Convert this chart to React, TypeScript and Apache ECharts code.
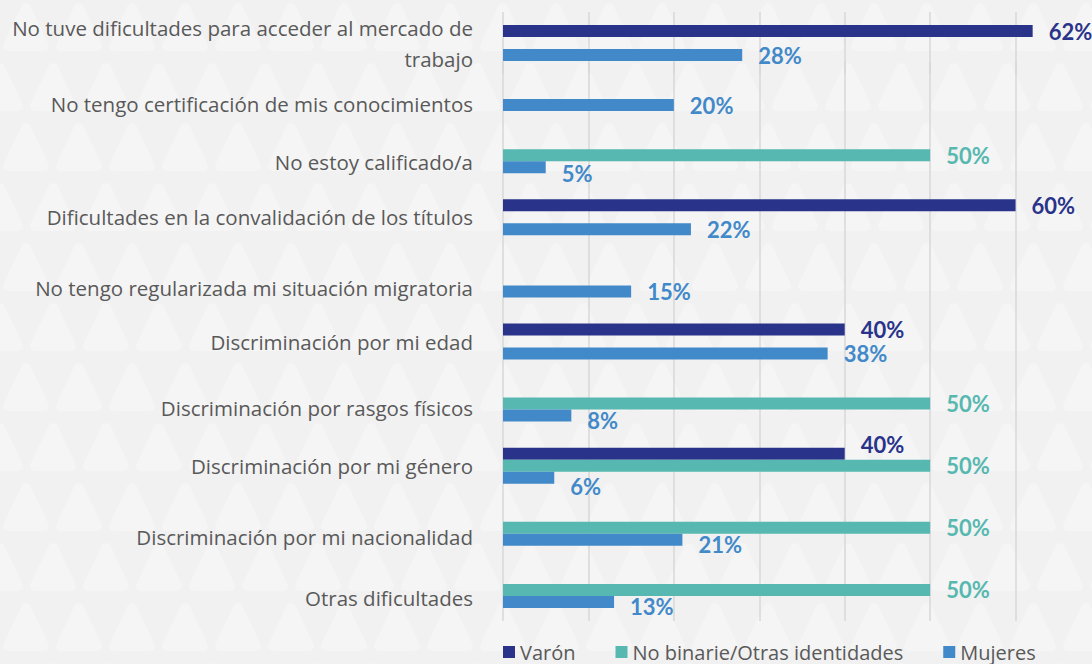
import React, { useEffect, useRef } from "react";
import * as echarts from "echarts";

const categories = [
  "No tuve dificultades para acceder al mercado de\ntrabajo",
  "No tengo certificación de mis conocimientos",
  "No estoy calificado/a",
  "Dificultades en la convalidación de los títulos",
  "No tengo regularizada mi situación migratoria",
  "Discriminación por mi edad",
  "Discriminación por rasgos físicos",
  "Discriminación por mi género",
  "Discriminación por mi nacionalidad",
  "Otras dificultades",
];
const seriesNames = ["Varón", "No binarie/Otras identidades", "Mujeres"];
const varon = [62, null, null, 60, null, 40, null, 40, null, null];
const noBinarie = [null, null, 50, null, null, null, 50, 50, 50, 50];
const mujeres = [28, 20, 5, 22, 15, 38, 8, 6, 21, 13];
const xMin = 0;
const xMax = 70;
const xInterval = 10;

// styling (not data)
const colors = ["#29338a", "#56b8b0", "#4189c9"];
const catLabelShift = [0, 11, 7, 0, 9, 0, 4, 0, 9, 8];
const labelShift = [
  [0, 0, 0, 0, 0, 0, 0, -9, 0, 0],
  [0, 0, 0, 0, 0, 0, 0, 0, 0, 0],
  [0, 0, 6, 0, 0, 0, 5, 9, 5, 5],
];
const FONT = "Lato, 'Open Sans', sans-serif";
const CAT_FONT = "'Open Sans', Lato, sans-serif";
const TEXT = "#595959";
const CAT_SIZE = 20.5;

const bgSvg =
  "<svg xmlns='http://www.w3.org/2000/svg' width='106' height='120'>" +
  "<rect width='106' height='120' fill='#f1f1f1'/>" +
  "<g fill='#f5f5f5' stroke='#f5f5f5' stroke-width='10' stroke-linejoin='round'>" +
  "<polygon points='26,8 8,46 44,46'/>" +
  "<polygon points='79,8 61,46 97,46'/>" +
  "<polygon points='0,68 -18,106 18,106'/>" +
  "<polygon points='106,68 88,106 124,106'/>" +
  "<polygon points='53,68 35,106 71,106'/>" +
  "</g></svg>";

export default function App() {
  const ref = useRef<HTMLDivElement>(null);
  useEffect(() => {
    if (!ref.current) return;
    const chart = echarts.init(ref.current, null, { renderer: "svg" });
    const allData = [varon, noBinarie, mujeres];

    const rich: any = {};
    catLabelShift.forEach((s, i) => {
      rich["c" + i] = {
        fontSize: CAT_SIZE,
        fontFamily: CAT_FONT,
        color: TEXT,
        align: "right",
        padding: [2 * s, 0, 0, 0],
      };
    });
    rich.first = {
      fontSize: CAT_SIZE,
      fontFamily: CAT_FONT,
      color: TEXT,
      align: "right",
      lineHeight: 31,
    };

    const xAxisBase = (gridIndex: number) => ({
      type: "value",
      gridIndex,
      min: xMin,
      max: xMax,
      interval: xInterval,
      axisLabel: { show: false },
      axisLine: { show: false },
      axisTick: { show: false },
      splitLine: { show: true, lineStyle: { color: "#d7d7d7", width: 1.5 } },
    });

    const makeSeries = (gridIndex: number, startIdx: number, endIdx: number) =>
      allData.map((arr, s) => ({
        type: "bar",
        name: seriesNames[s],
        xAxisIndex: gridIndex,
        yAxisIndex: gridIndex,
        barWidth: 12,
        barGap: "0%",
        itemStyle: { color: colors[s] },
        label: {
          show: true,
          position: "right",
          distance: 16,
          formatter: "{c}%",
          color: colors[s],
          fontSize: 22,
          fontWeight: "bold",
          fontFamily: FONT,
        },
        data: arr.slice(startIdx, endIdx).map((v, k) => {
          const idx = startIdx + k;
          if (v === null) return null;
          return {
            value: v,
            label: { offset: [0, labelShift[s][idx]] },
          };
        }),
      }));

    chart.setOption({
      animation: false,
      backgroundColor: "transparent",
      textStyle: { fontFamily: FONT },
      legend: {
        data: seriesNames,
        left: 498,
        top: 637,
        icon: "rect",
        itemWidth: 12,
        itemHeight: 12,
        itemGap: 40,
        textStyle: { fontSize: 20, color: TEXT, fontFamily: CAT_FONT },
      },
      grid: [
        { left: 503, width: 598, top: 12, height: 62, outerBoundsMode: "none" },
        { left: 503, width: 598, top: 62, height: 559, outerBoundsMode: "none" },
      ],
      xAxis: [xAxisBase(0), xAxisBase(1)],
      yAxis: [
        {
          type: "category",
          gridIndex: 0,
          inverse: true,
          data: categories.slice(0, 1),
          axisLine: { show: false },
          axisTick: { show: false },
          axisLabel: {
            margin: 30,
            formatter: (v: string) =>
              v
                .split("\n")
                .map((line) => "{first|" + line + "}")
                .join("\n"),
            rich,
          },
        },
        {
          type: "category",
          gridIndex: 1,
          inverse: true,
          data: categories.slice(1),
          axisLine: { show: false },
          axisTick: { show: false },
          axisLabel: {
            margin: 30,
            interval: 0,
            formatter: (v: string, i: number) => "{c" + (i + 1) + "|" + v + "}",
            rich,
          },
        },
      ],
      series: [...makeSeries(0, 0, 1), ...makeSeries(1, 1, 10)],
    });
    return () => chart.dispose();
  }, []);

  return (
    <div
      ref={ref}
      style={{
        position: "fixed",
        left: 0,
        top: 0,
        width: 1092,
        height: 664,
        backgroundColor: "#f1f1f1",
        backgroundImage: `url("data:image/svg+xml;utf8,${encodeURIComponent(bgSvg)}")`,
      }}
    />
  );
}
